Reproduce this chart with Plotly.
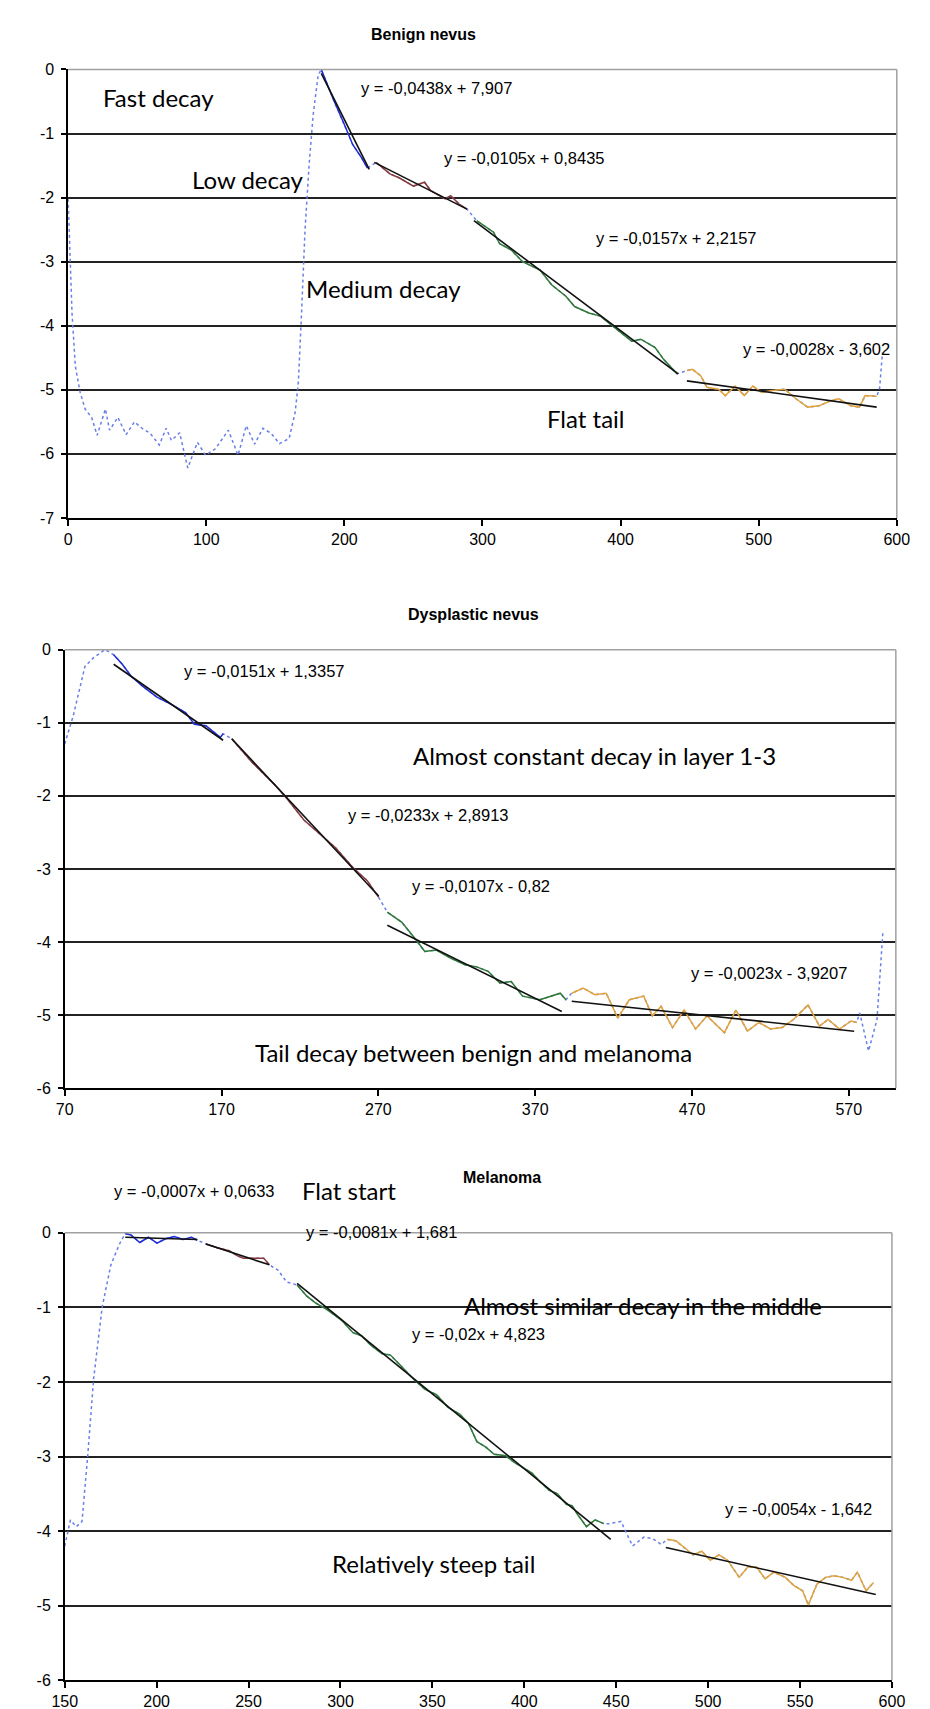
import plotly.graph_objects as go

# ---------------- Benign nevus ----------------
ben_dot_x = [0, 2.8, 5.2, 8.7, 12.3, 17, 21, 27, 30, 36, 42, 48, 53.5, 59.4, 66, 71, 74.8, 80.7, 86.6, 93.6,
             99.5, 106.6, 116, 123, 129, 135, 141, 147, 153, 160, 164.4, 166.7, 169, 171.5, 174.5, 177.4, 181]
ben_dot_y = [-2.02, -3.8, -4.63, -5.04, -5.3, -5.43, -5.71, -5.3, -5.63, -5.43, -5.7, -5.5, -5.6, -5.68, -5.86,
             -5.6, -5.79, -5.67, -6.22, -5.82, -6.02, -5.92, -5.63, -6.02, -5.56, -5.85, -5.6, -5.68, -5.84, -5.76,
             -5.35, -4.88, -3.8, -2.51, -1.48, -0.71, -0.09]
ben_blue_x = [183.3, 191.7, 200, 206, 212.5, 216.7]
ben_blue_y = [0, -0.45, -0.86, -1.17, -1.38, -1.54]
ben_brown_x = [223, 233, 239.6, 250, 258, 262.5, 273, 277, 283, 288.8]
ben_brown_y = [-1.45, -1.63, -1.69, -1.82, -1.76, -1.89, -2.02, -1.97, -2.1, -2.18]
ben_green_x = [295.8, 308, 312.5, 321, 329, 341.7, 350, 360.4, 366.7, 377, 385.4, 391.7, 400, 408, 414.6,
               420.8, 425, 431, 440.8]
ben_green_y = [-2.36, -2.54, -2.72, -2.82, -3.0, -3.13, -3.36, -3.54, -3.7, -3.8, -3.85, -3.96, -4.11, -4.24,
               -4.21, -4.29, -4.34, -4.52, -4.75]
ben_orange_x = [448, 452, 458, 462.5, 471, 475.8, 483, 489.6, 495.8, 502, 510, 518.8, 527, 535.4, 543.75, 552,
                558, 566.7, 573, 577, 585.4]
ben_orange_y = [-4.7, -4.68, -4.78, -4.96, -4.99, -5.09, -4.94, -5.09, -4.94, -5.04, -5.01, -4.99, -5.14, -5.27,
                -5.25, -5.17, -5.14, -5.25, -5.27, -5.09, -5.1]
ben_tail_x = [587.5, 589.6]
ben_tail_y = [-4.99, -4.42]
ben_trend_x = [[183.3, 218], [221.7, 288.8], [293.8, 441.7], [448, 585.4]]
ben_trend_y = [[-0.06, -1.56], [-1.45, -2.18], [-2.36, -4.75], [-4.86, -5.27]]

# ---------------- Dysplastic nevus ----------------
dys_dot_x = [70, 75.5, 82.9, 88.4, 95.7]
dys_dot_y = [-1.29, -0.9, -0.23, -0.11, 0]
dys_blue_x = [101.2, 106.7, 112.2, 119.6, 128.8, 138, 147, 152.7, 160, 169.2, 171]
dys_blue_y = [-0.07, -0.2, -0.36, -0.5, -0.65, -0.75, -0.86, -1.02, -1.04, -1.2, -1.15]
dys_brown_x = [176.5, 189.4, 204, 211.4, 222.5, 233.5, 242.7, 253.7, 262.9, 270.2]
dys_brown_y = [-1.22, -1.54, -1.85, -2.03, -2.33, -2.53, -2.71, -2.98, -3.16, -3.39]
dys_green_x = [275.7, 285, 294, 299.6, 307, 316, 325.3, 332.7, 340, 347.4, 354.7, 362, 373, 380.4, 386, 389.6]
dys_green_y = [-3.59, -3.73, -3.97, -4.13, -4.11, -4.22, -4.31, -4.34, -4.4, -4.56, -4.54, -4.74, -4.79, -4.74,
               -4.7, -4.79]
dys_orange_x = [393.3, 400.6, 408, 415.3, 422.7, 430, 439.2, 444.7, 450.3, 457.6, 465, 472.3, 479.6, 490.7, 498,
                505.4, 512.7, 520, 527.4, 534.7, 544, 551.3, 556.8, 564.1, 571.5, 575]
dys_orange_y = [-4.7, -4.63, -4.72, -4.7, -5.04, -4.79, -4.74, -5.01, -4.88, -5.17, -4.93, -5.19, -5.01, -5.24,
                -4.93, -5.22, -5.1, -5.19, -5.17, -5.06, -4.86, -5.15, -5.06, -5.19, -5.08, -5.1]
dys_tail_x = [577, 582.6, 588, 591.8]
dys_tail_y = [-4.97, -5.49, -5.06, -3.84]
dys_trend_x = [[101.2, 171], [176.5, 270.2], [275.7, 387], [393.3, 573.4]]
dys_trend_y = [[-0.2, -1.24], [-1.22, -3.37], [-3.77, -4.95], [-4.81, -5.22]]

# ---------------- Melanoma ----------------
mel_dot_x = [150, 153.1, 156.3, 159.4, 162.5, 165.7, 170.4, 175.1, 179.8]
mel_dot_y = [-4.2, -3.85, -3.94, -3.87, -2.99, -1.96, -0.99, -0.43, -0.15]
mel_blue_x = [182.9, 186, 190.8, 195.5, 200.2, 204.9, 209.6, 214.3, 219, 222.1]
mel_blue_y = [-0.01, -0.03, -0.13, -0.06, -0.14, -0.08, -0.05, -0.09, -0.06, -0.1]
mel_brown_x = [226.8, 233, 239.4, 244, 247.2, 251.9, 258.2, 261.3]
mel_brown_y = [-0.15, -0.2, -0.24, -0.31, -0.34, -0.34, -0.34, -0.43]
mel_gap1_x = [266, 270.7]
mel_gap1_y = [-0.5, -0.66]
mel_green_x = [276.4, 281.7, 286.4, 292.7, 300.5, 306.8, 311.5, 316.2, 322.5, 327.2, 331.9, 339.7, 346, 352.2,
               358.5, 364.8, 369.5, 374.2, 378.9, 383.6, 389.9, 394.6, 399.3, 404, 408.7, 413.4, 418.1, 422.8,
               426, 429.1, 433.8, 438.5, 443.2]
mel_green_y = [-0.7, -0.85, -0.94, -1.03, -1.17, -1.34, -1.38, -1.5, -1.62, -1.64, -1.76, -1.96, -2.1, -2.17,
               -2.34, -2.43, -2.55, -2.8, -2.87, -2.97, -2.99, -3.08, -3.15, -3.22, -3.34, -3.45, -3.5, -3.64,
               -3.66, -3.78, -3.94, -3.85, -3.9]
mel_gap2_x = [446.3, 452.6, 458.9, 465.1, 469.8, 474.5]
mel_gap2_y = [-3.9, -3.87, -4.2, -4.08, -4.1, -4.18]
mel_orange_x = [477.7, 482.4, 487.1, 491.8, 496.5, 501.2, 505.9, 510.6, 516.9, 521.6, 526.3, 531, 535.7, 542,
                546.7, 551.4, 554.5, 559.2, 563.9, 568.6, 573.3, 578, 581.2, 585.9, 590]
mel_orange_y = [-4.11, -4.13, -4.22, -4.32, -4.27, -4.39, -4.32, -4.39, -4.62, -4.48, -4.48, -4.64, -4.55, -4.62,
                -4.73, -4.8, -4.99, -4.71, -4.62, -4.6, -4.62, -4.66, -4.55, -4.8, -4.69]
mel_trend_x = [[182.9, 222.1], [226.8, 261.3], [276.4, 447], [477, 591.2]]
mel_trend_y = [[-0.06, -0.09], [-0.15, -0.43], [-0.68, -4.11], [-4.22, -4.85]]

# ---------------- Axis ticks & titles ----------------
panel_titles = ["Benign nevus", "Dysplastic nevus", "Melanoma"]
ben_xticks = [0, 100, 200, 300, 400, 500, 600]
dys_xticks = [70, 170, 270, 370, 470, 570]
mel_xticks = [150, 200, 250, 300, 350, 400, 450, 500, 550, 600]
ben_yticks = [0, -1, -2, -3, -4, -5, -6, -7]
dys_yticks = [0, -1, -2, -3, -4, -5, -6]
mel_yticks = [0, -1, -2, -3, -4, -5, -6]

ben_eqs = ["y = -0,0438x + 7,907", "y = -0,0105x + 0,8435", "y = -0,0157x + 2,2157", "y = -0,0028x - 3,602"]
ben_notes = ["Fast decay", "Low decay", "Medium decay", "Flat tail"]
dys_eqs = ["y = -0,0151x + 1,3357", "y = -0,0233x + 2,8913", "y = -0,0107x - 0,82", "y = -0,0023x - 3,9207"]
dys_notes = ["Almost constant decay in layer 1-3", "Tail decay between benign and melanoma"]
mel_eqs = ["y = -0,0007x + 0,0633", "y = -0,0081x + 1,681", "y = -0,02x + 4,823", "y = -0,0054x - 1,642"]
mel_notes = ["Flat start", "Almost similar decay in the middle", "Relatively steep tail"]

# ---------------- Styling ----------------
W, H = 930, 1709
C_DOT = "#6a7fe6"
SEG_COLORS = ["#1f2bd6", "#8b3a3a", "#2f7a33", "#e3a43a"]
AX_FONT = dict(family="Arial, Liberation Sans, sans-serif", size=16, color="black")
EQ_FONT = dict(family="Arial, Liberation Sans, sans-serif", size=16.5, color="black")
NOTE_FONT = dict(family="Lato, Open Sans, sans-serif", size=24, color="black")
TITLE_FONT = dict(family="Arial, Liberation Sans, sans-serif", size=16, color="black")


def px_x(p):
    return p / W


def px_y(p):
    return 1 - p / H


fig = go.Figure()

panels = [
    dict(idx="", xr=[0, 600], yr=[-7, 0], xt=ben_xticks, yt=ben_yticks,
         dom_x=[48.5, 901], dom_y=[54, 507],
         pieces=[(ben_dot_x, ben_dot_y, None), (ben_blue_x, ben_blue_y, 0), (ben_brown_x, ben_brown_y, 1),
                 (ben_green_x, ben_green_y, 2), (ben_orange_x, ben_orange_y, 3), (ben_tail_x, ben_tail_y, None)],
         tx=ben_trend_x, ty=ben_trend_y),
    dict(idx="2", xr=[70, 600], yr=[-6, 0], xt=dys_xticks, yt=dys_yticks,
         dom_x=[45, 900], dom_y=[640, 1083],
         pieces=[(dys_dot_x, dys_dot_y, None), (dys_blue_x, dys_blue_y, 0), (dys_brown_x, dys_brown_y, 1),
                 (dys_green_x, dys_green_y, 2), (dys_orange_x, dys_orange_y, 3), (dys_tail_x, dys_tail_y, None)],
         tx=dys_trend_x, ty=dys_trend_y),
    dict(idx="3", xr=[150, 600], yr=[-6, 0], xt=mel_xticks, yt=mel_yticks,
         dom_x=[45, 896], dom_y=[1229, 1681],
         pieces=[(mel_dot_x, mel_dot_y, None), (mel_blue_x, mel_blue_y, 0), (mel_brown_x, mel_brown_y, 1),
                 (mel_gap1_x, mel_gap1_y, None), (mel_green_x, mel_green_y, 2), (mel_gap2_x, mel_gap2_y, None),
                 (mel_orange_x, mel_orange_y, 3)],
         tx=mel_trend_x, ty=mel_trend_y),
]

layout = dict(width=W, height=H, margin=dict(l=0, r=0, t=0, b=0), autosize=False,
              paper_bgcolor="white", plot_bgcolor="white", showlegend=False)
shapes = []

for p in panels:
    xa, ya = "x" + p["idx"], "y" + p["idx"]
    # full dotted curve through all pieces
    all_x, all_y = [], []
    for xs, ys, _ in p["pieces"]:
        all_x += xs
        all_y += ys
    fig.add_trace(go.Scatter(x=all_x, y=all_y, mode="lines", xaxis=xa, yaxis=ya,
                             line=dict(color=C_DOT, width=1.5, dash="dot"), hoverinfo="skip"))
    for xs, ys, c in p["pieces"]:
        if c is None:
            continue
        fig.add_trace(go.Scatter(x=xs, y=ys, mode="lines", xaxis=xa, yaxis=ya,
                                 line=dict(color=SEG_COLORS[c], width=1.5)))
    for txs, tys in zip(p["tx"], p["ty"]):
        fig.add_trace(go.Scatter(x=txs, y=tys, mode="lines", xaxis=xa, yaxis=ya,
                                 line=dict(color="#111111", width=1.6)))
    layout["xaxis" + p["idx"]] = dict(
        domain=[px_x(p["dom_x"][0]), px_x(p["dom_x"][1])], anchor=ya, range=p["xr"],
        tickvals=p["xt"], ticktext=[str(v) for v in p["xt"]], showgrid=False, zeroline=False,
        showline=True, linecolor="black", linewidth=1.5, ticks="outside", ticklen=6, tickwidth=1.5,
        tickcolor="black", tickfont=AX_FONT)
    layout["yaxis" + p["idx"]] = dict(
        domain=[px_y(p["dom_y"][1]), px_y(p["dom_y"][0])], anchor=xa, range=p["yr"],
        tickvals=p["yt"], ticktext=[str(v) for v in p["yt"]], showgrid=True, gridcolor="#222222",
        gridwidth=1.6, zeroline=False, showline=True, linecolor="black", linewidth=1.5,
        ticks="outside", ticklen=5, tickwidth=1.5, tickcolor="black", tickfont=AX_FONT,
        ticklabelstandoff=4)
    # light frame on top and right
    shapes.append(dict(type="line", xref=xa + " domain", yref=ya + " domain", x0=0, x1=1, y0=1, y1=1,
                       line=dict(color="#a0a0a0", width=1.5), layer="above"))
    shapes.append(dict(type="line", xref=xa + " domain", yref=ya + " domain", x0=1, x1=1, y0=0, y1=1,
                       line=dict(color="#a0a0a0", width=1.5), layer="above"))

layout["shapes"] = shapes

ann = []


def note(text, x, y, ref, font):
    ann.append(dict(text=text, x=x, y=y, xref="x" + ref, yref="y" + ref, xanchor="left", yanchor="middle",
                    showarrow=False, font=font))


def note_px(text, left, cy, font):
    ann.append(dict(text=text, x=px_x(left), y=px_y(cy), xref="paper", yref="paper", xanchor="left",
                    yanchor="middle", showarrow=False, font=font))


# Benign
note(ben_eqs[0], 210.6, -0.29, "", EQ_FONT)
note(ben_eqs[1], 271, -1.38, "", EQ_FONT)
note(ben_eqs[2], 380.7, -2.63, "", EQ_FONT)
note(ben_eqs[3], 487.5, -4.37, "", EQ_FONT)
note(ben_notes[0], 24, -0.44, "", NOTE_FONT)
note(ben_notes[1], 88, -1.72, "", NOTE_FONT)
note(ben_notes[2], 170.5, -3.42, "", NOTE_FONT)
note(ben_notes[3], 345, -5.45, "", NOTE_FONT)
# Dysplastic
note(dys_eqs[0], 144.6, -0.29, "2", EQ_FONT)
note(dys_eqs[1], 249.3, -2.26, "2", EQ_FONT)
note(dys_eqs[2], 290.1, -3.23, "2", EQ_FONT)
note(dys_eqs[3], 467.8, -4.42, "2", EQ_FONT)
note(dys_notes[0], 290.5, -1.45, "2", NOTE_FONT)
note(dys_notes[1], 190, -5.51, "2", NOTE_FONT)
# Melanoma (labels above the plot area placed in page pixels)
note_px(mel_eqs[0], 94, 1187, EQ_FONT)
note_px(mel_notes[0], 287, 1186, NOTE_FONT)
note_px(mel_eqs[1], 291, 1228, EQ_FONT)
note(mel_eqs[2], 338, -1.36, "3", EQ_FONT)
note(mel_eqs[3], 508.2, -3.71, "3", EQ_FONT)
note(mel_notes[1], 366, -0.97, "3", NOTE_FONT)
note(mel_notes[2], 294.5, -4.44, "3", NOTE_FONT)

for t, cx, cy in zip(panel_titles, [414, 465, 495], [18.3, 605, 1173]):
    ann.append(dict(text="<b>" + t + "</b>", x=px_x(cx), y=px_y(cy), xref="paper", yref="paper",
                    xanchor="center", yanchor="middle", showarrow=False, font=TITLE_FONT))

layout["annotations"] = ann
fig.update_layout(**layout)
fig.write_html("out.html")
